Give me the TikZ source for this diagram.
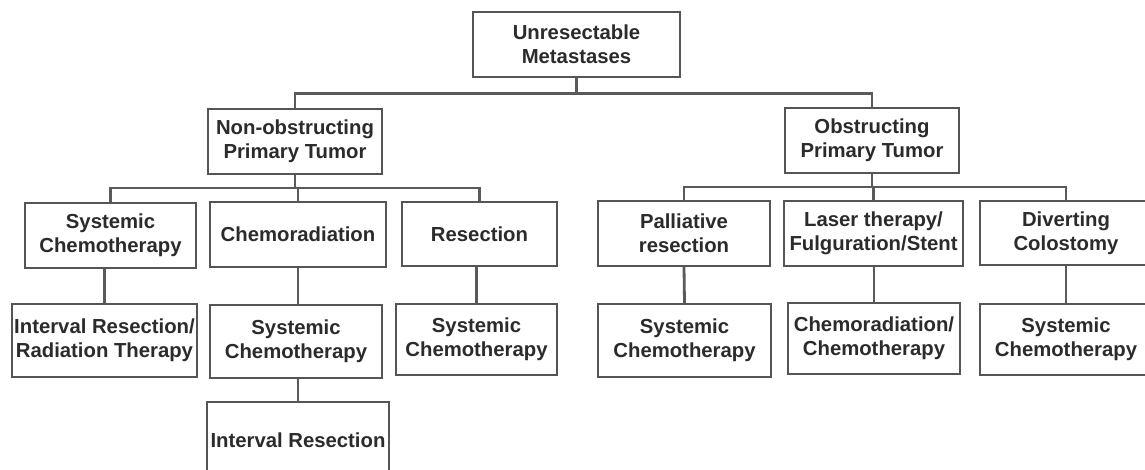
\documentclass[tikz,border=0pt]{standalone}
\usepackage{fontspec}
\setmainfont{Liberation Sans}
\definecolor{txt}{HTML}{2B2B2B}
\definecolor{edge}{HTML}{555555}
\definecolor{conn}{HTML}{5A5A5A}
\tikzset{
  box/.style={draw=edge, line width=1.8pt, inner sep=0pt, align=center,
    text=txt, font=\fontsize{20.3}{24}\selectfont\bfseries},
  link/.style={draw=conn, line width=2.8pt},
}
\newcommand{\bx}[6]{\node[box, minimum width=#4pt, minimum height=#5pt] (#1) at (#2pt,-#3pt) {#6};}
\begin{document}
\begin{tikzpicture}
\useasboundingbox (0,0) rectangle (1145pt,-470pt);
\clip (0,0) rectangle (1145pt,-470pt);
\fill[white] (0,0) rectangle (1145pt,-470pt);
% level 0
\bx{top}{576.5}{44.5}{207}{65}{Unresectable\\Metastases}
% level 1
\bx{nonob}{295}{141.5}{174}{65}{Non-obstructing\\Primary Tumor}
\bx{obst}{872}{140.5}{174}{65}{Obstructing\\Primary Tumor}
% level 2
\bx{sysa}{110.5}{235.5}{171}{65}{Systemic\\Chemotherapy}
\bx{chemo}{298}{234.5}{176}{65}{Chemoradiation}
\bx{resec}{479.5}{234}{155}{64}{Resection}
\bx{pall}{684}{233.5}{172}{65}{Palliative\\resection}
\bx{laser}{873.5}{233.5}{179}{65}{Laser therapy/\\Fulguration/Stent}
\bx{divert}{1066}{233}{172}{64}{Diverting\\Colostomy}
% level 3
\bx{irr}{104.5}{340.5}{185}{73}{Interval Resection/\\Radiation Therapy}
\bx{sysb}{296}{341.5}{172}{73}{Systemic\\Chemotherapy}
\bx{sysc}{476.5}{339.5}{161}{71}{Systemic\\Chemotherapy}
\bx{sysd}{684.5}{340.5}{173}{73}{Systemic\\Chemotherapy}
\bx{cc}{874}{338.5}{172}{71}{Chemoradiation/\\Chemotherapy}
\bx{syse}{1066}{339.5}{172}{71}{Systemic\\Chemotherapy}
% level 4
\bx{ir}{298}{440}{182}{76}{Interval Resection}
% buses
\coordinate (b0) at (0,-93.5pt);
\coordinate (b1) at (0,-188pt);
\coordinate (b2) at (0,-187pt);
% connectors
\draw[link] (top.south) -- (top.south |- b0);
\draw[link] (nonob.north) -- (nonob.north |- b0) -- (obst.north |- b0) -- (obst.north);
\draw[link] (nonob.south) -- (nonob.south |- b1);
\draw[link] (sysa.north) -- (sysa.north |- b1) -- (resec.north |- b1) -- (resec.north);
\draw[link] (chemo.north) -- (chemo.north |- b1);
\draw[link] (obst.south) -- (obst.south |- b2);
\draw[link] (pall.north) -- (pall.north |- b2) -- (divert.north |- b2) -- (divert.north);
\draw[link] (laser.north) -- (laser.north |- b2);
\draw[link] (irr.north) -- (irr.north |- sysa.south);
\draw[link] (chemo.south) -- (chemo.south |- sysb.north);
\draw[link] (ir.north) -- (ir.north |- sysb.south);
\draw[link] (sysc.north) -- (sysc.north |- resec.south);
\draw[link] (pall.south) -- (sysd.north);
\draw[link] (cc.north) -- (cc.north |- laser.south);
\draw[link] (divert.south) -- (syse.north);
\end{tikzpicture}
\end{document}
